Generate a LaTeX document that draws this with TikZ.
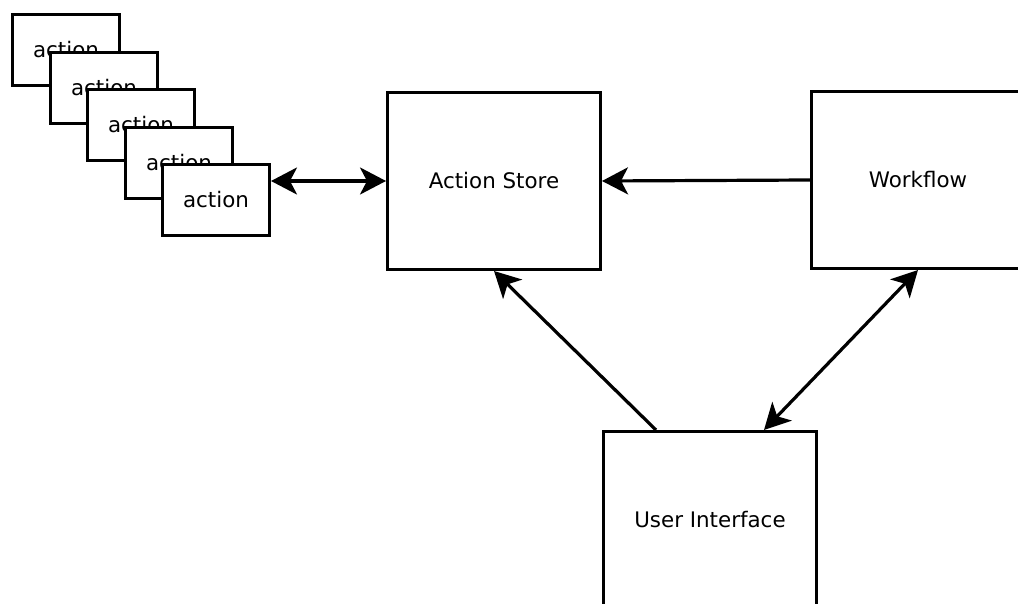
\documentclass[tikz,border=0pt]{standalone}
\usepackage{fontspec}
\setmainfont{DejaVu Sans}
\usetikzlibrary{arrows.meta,calc}
\begin{document}
\begin{tikzpicture}[x=1pt,y=-1pt,
  >={Stealth[length=26pt,width=27pt,inset=7pt]},
  box/.style={draw,line width=3pt,fill=white,inner sep=0pt,font=\fontsize{21.4}{26}\selectfont},
  actbox/.style={box,minimum width=107pt,minimum height=71pt},
  bigbox/.style={box,minimum width=213pt,minimum height=177pt},
  conn/.style={line width=3.2pt,->},
  dconn/.style={line width=3.2pt,<->}]
\useasboundingbox (0,0) rectangle (1018,604);
\clip (0,0) rectangle (1018,604);
\node[actbox] (a1) at (66,50) {action};
\node[actbox] (a2) at (104,88) {action};
\node[actbox] (a3) at (141,125) {action};
\node[actbox] (a4) at (179,163) {action};
\node[actbox] (a5) at (216,200) {action};
\node[bigbox] (as) at (494,181) {Action Store};
\node[bigbox] (wf) at (918,180) {Workflow};
\node[bigbox] (ui) at (710,520) {User Interface};
\draw[dconn] (a5.east |- as.west) -- (as.west);
\draw[conn] (wf.west) -- (as.east);
\draw[conn] ($(ui.north west)!0.25!(ui.north east)$) -- (as.south);
\draw[dconn] (wf.south) -- ($(ui.north west)!0.75!(ui.north east)$);
\end{tikzpicture}
\end{document}
